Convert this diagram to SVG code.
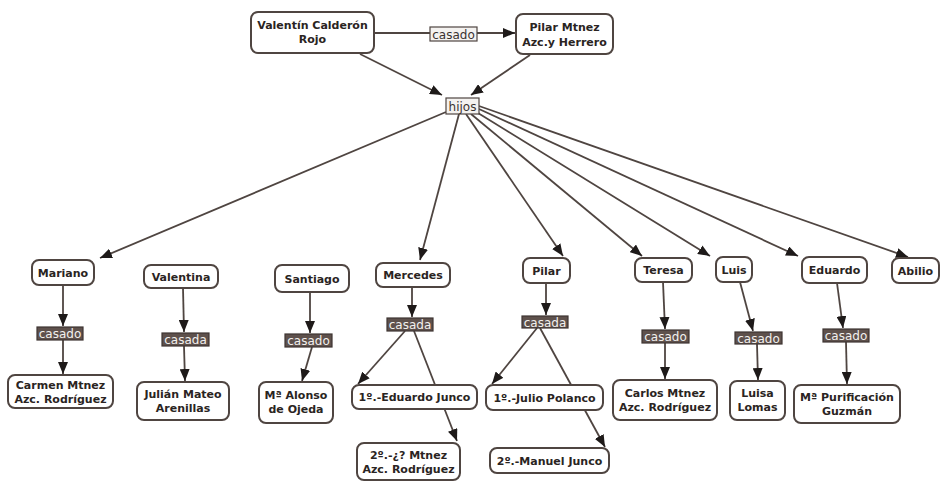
<svg xmlns="http://www.w3.org/2000/svg" width="941" height="481" viewBox="0 0 941 481">
<style>
.node rect{fill:#fff;stroke:#4f4541;stroke-width:2}
.node text{font-family:"DejaVu Sans",Verdana,sans-serif;font-weight:bold;font-size:11px;fill:#2a2422;text-anchor:middle}
.lbl rect{fill:#5e514c;stroke:#3e3532;stroke-width:1.2}
.lbl text{font-family:"DejaVu Sans",Verdana,sans-serif;font-size:12px;fill:#f2f0ee;text-anchor:middle}
.lbl.light rect{fill:#f4f2f0;stroke:#4f4541}
.lbl.light text{fill:#3a3230}
#edges line{stroke:#4f4541;stroke-width:1.8}
#edges line.a{marker-end:url(#ah)}
</style>
<defs>
<marker id="ah" viewBox="0 0 12 10" refX="12" refY="5" markerWidth="12" markerHeight="10" markerUnits="userSpaceOnUse" orient="auto">
<path d="M0,0 L12,5 L0,10 z" fill="#1e1a19"/>
</marker>
</defs>
<rect width="941" height="481" fill="#fff"/>
<g id="edges">
<line x1="374" y1="33" x2="430" y2="33"/>
<line class="a" x1="477" y1="33" x2="515" y2="33"/>
<line class="a" x1="360" y1="54" x2="442" y2="95"/>
<line class="a" x1="530" y1="55" x2="471" y2="95"/>
<line class="a" x1="446" y1="112" x2="100" y2="258"/>
<line class="a" x1="459" y1="114" x2="420" y2="260"/>
<line class="a" x1="466" y1="114" x2="563" y2="256"/>
<line class="a" x1="471" y1="114" x2="642" y2="256"/>
<line class="a" x1="478" y1="113" x2="710" y2="256"/>
<line class="a" x1="479" y1="109" x2="798" y2="256"/>
<line class="a" x1="479" y1="106" x2="908" y2="257"/>
<line class="a" x1="63" y1="285" x2="63" y2="326"/>
<line class="a" x1="63" y1="340" x2="63" y2="374"/>
<line class="a" x1="183" y1="288" x2="184" y2="332"/>
<line class="a" x1="184" y1="346" x2="185" y2="381"/>
<line class="a" x1="310" y1="292" x2="310" y2="333"/>
<line class="a" x1="312" y1="347" x2="302" y2="381"/>
<line class="a" x1="412" y1="287" x2="412" y2="317"/>
<line class="a" x1="405" y1="331" x2="358" y2="384"/>
<line class="a" x1="414" y1="331" x2="457" y2="441"/>
<line class="a" x1="546" y1="283" x2="546" y2="315"/>
<line class="a" x1="537" y1="328" x2="492" y2="384"/>
<line class="a" x1="540" y1="328" x2="605" y2="447"/>
<line class="a" x1="663" y1="282" x2="665" y2="329"/>
<line class="a" x1="665" y1="343" x2="665" y2="379"/>
<line class="a" x1="740" y1="282" x2="753" y2="331"/>
<line class="a" x1="757" y1="344" x2="758" y2="380"/>
<line class="a" x1="837" y1="283" x2="843" y2="328"/>
<line class="a" x1="846" y1="342" x2="847" y2="384"/>
</g>
<g id="n-valentin" class="node"><rect x="251" y="12" width="123" height="41" rx="7"/><text x="312.5" y="29">Valentín Calderón</text><text x="312.5" y="43">Rojo</text></g>
<g id="l-casado-top" class="lbl light"><rect x="430" y="27" width="47" height="14"/><text x="453.5" y="38.5">casado</text></g>
<g id="n-pilarm" class="node"><rect x="516" y="14" width="97" height="40" rx="7"/><text x="564.5" y="31">Pilar Mtnez</text><text x="564.5" y="46">Azc.y Herrero</text></g>
<g id="l-hijos" class="lbl light"><rect x="446" y="98" width="33" height="16"/><text x="462.5" y="110.5">hijos</text></g>

<g id="n-mariano" class="node"><rect x="32" y="260" width="62" height="25" rx="7"/><text x="63" y="276.5">Mariano</text></g>
<g id="l-mariano" class="lbl"><rect x="37" y="327" width="46" height="13"/><text x="60" y="338">casado</text></g>
<g id="n-carmen" class="node"><rect x="8" y="375" width="105" height="33" rx="7"/><text x="60.5" y="389">Carmen Mtnez</text><text x="60.5" y="403">Azc. Rodríguez</text></g>

<g id="n-valentina" class="node"><rect x="144" y="265" width="74" height="23" rx="7"/><text x="181" y="280.5">Valentina</text></g>
<g id="l-valentina" class="lbl"><rect x="162" y="333" width="47" height="13"/><text x="185.5" y="344">casada</text></g>
<g id="n-julian" class="node"><rect x="137" y="382" width="92" height="38" rx="7"/><text x="183" y="398">Julián Mateo</text><text x="183" y="412">Arenillas</text></g>

<g id="n-santiago" class="node"><rect x="275" y="265" width="74" height="27" rx="7"/><text x="312" y="282.5">Santiago</text></g>
<g id="l-santiago" class="lbl"><rect x="285" y="334" width="47" height="13"/><text x="308.5" y="345">casado</text></g>
<g id="n-alonso" class="node"><rect x="259" y="382" width="74" height="41" rx="7"/><text x="296" y="399">Mª Alonso</text><text x="296" y="413">de Ojeda</text></g>

<g id="n-mercedes" class="node"><rect x="376" y="263" width="74" height="24" rx="7"/><text x="413" y="279">Mercedes</text></g>
<g id="l-mercedes" class="lbl"><rect x="387" y="318" width="46" height="13"/><text x="410" y="329">casada</text></g>
<g id="n-ejunco" class="node"><rect x="352" y="385" width="125" height="24" rx="7"/><text x="414.5" y="401">1º.-Eduardo Junco</text></g>
<g id="n-mtnez2" class="node"><rect x="357" y="443" width="103" height="37" rx="7"/><text x="408.5" y="459">2º.-¿? Mtnez</text><text x="408.5" y="473">Azc. Rodríguez</text></g>

<g id="n-pilar" class="node"><rect x="523" y="258" width="47" height="25" rx="7"/><text x="546.5" y="274.5">Pilar</text></g>
<g id="l-pilar" class="lbl"><rect x="522" y="316" width="46" height="12"/><text x="545" y="326.5">casada</text></g>
<g id="n-polanco" class="node"><rect x="486" y="385" width="117" height="25" rx="7"/><text x="544.5" y="401.5">1º.-Julio Polanco</text></g>
<g id="n-mjunco" class="node"><rect x="490" y="448" width="119" height="25" rx="7"/><text x="549.5" y="464.5">2º.-Manuel Junco</text></g>

<g id="n-teresa" class="node"><rect x="635" y="258" width="57" height="24" rx="7"/><text x="663.5" y="274">Teresa</text></g>
<g id="l-teresa" class="lbl"><rect x="642" y="330" width="47" height="13"/><text x="665.5" y="341">casado</text></g>
<g id="n-carlos" class="node"><rect x="613" y="380" width="104" height="40" rx="7"/><text x="665" y="397">Carlos Mtnez</text><text x="665" y="411">Azc. Rodríguez</text></g>

<g id="n-luis" class="node"><rect x="716" y="257" width="36" height="25" rx="7"/><text x="734" y="273.5">Luis</text></g>
<g id="l-luis" class="lbl"><rect x="735" y="332" width="47" height="12"/><text x="758.5" y="342.5">casado</text></g>
<g id="n-luisa" class="node"><rect x="730" y="381" width="55" height="39" rx="7"/><text x="757.5" y="397">Luisa</text><text x="757.5" y="411">Lomas</text></g>

<g id="n-eduardo" class="node"><rect x="802" y="257" width="65" height="26" rx="7"/><text x="834.5" y="274">Eduardo</text></g>
<g id="l-eduardo" class="lbl"><rect x="823" y="329" width="46" height="13"/><text x="846" y="340">casado</text></g>
<g id="n-purificacion" class="node"><rect x="794" y="385" width="106" height="38" rx="7"/><text x="847" y="401">Mª Purificación</text><text x="847" y="415">Guzmán</text></g>

<g id="n-abilio" class="node"><rect x="892" y="258" width="47" height="25" rx="7"/><text x="915.5" y="274.5">Abilio</text></g>
</svg>
